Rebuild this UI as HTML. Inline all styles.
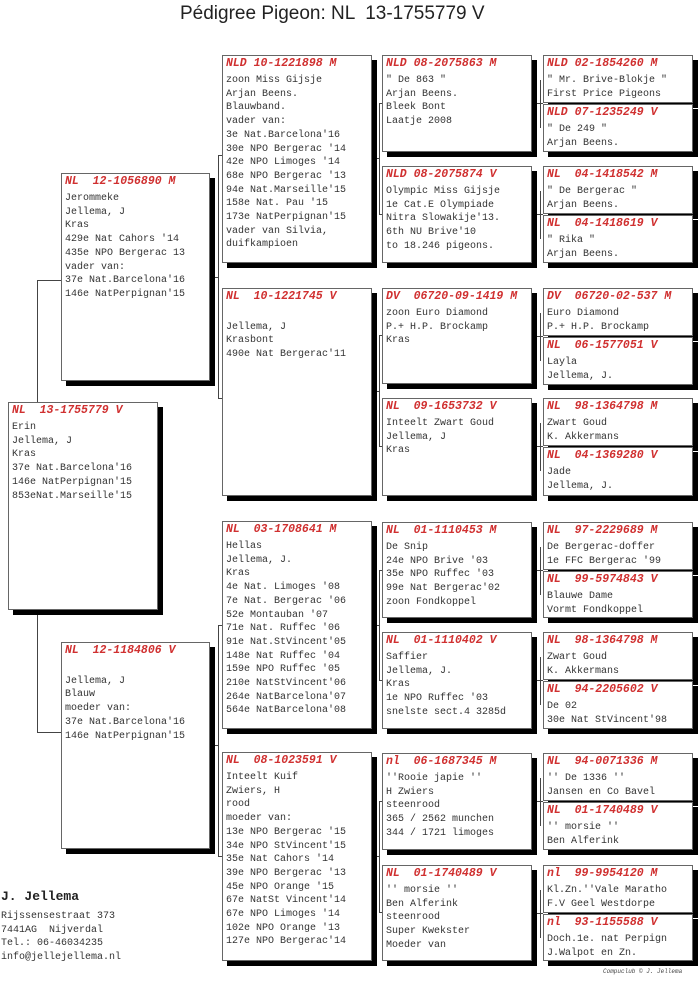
<!DOCTYPE html>
<html><head><meta charset="utf-8">
<style>
body{margin:0;width:700px;height:1006px;background:#fff;position:relative;overflow:hidden;font-family:"Liberation Mono",monospace;}
.t{position:absolute;left:180px;top:3px;font:19px "Liberation Sans",sans-serif;color:#222;white-space:pre;}
.b{position:absolute;background:#fff;border:1px solid #666;box-shadow:5px 5px 0 #000;box-sizing:border-box;padding:0 0 0 3px;font-size:10px;line-height:13.7px;color:#333;white-space:pre;overflow:hidden;}
.b .h{color:#d03030;font-weight:bold;font-style:italic;font-size:11.5px;height:18px;line-height:16px;}
svg{position:absolute;left:0;top:0;}
.f{position:absolute;font-size:10px;line-height:13.5px;color:#333;white-space:pre;left:1px;}
</style></head><body>
<div class="t">Pédigree Pigeon: NL  13-1755779 V</div>
<svg width="700" height="1006"><g stroke="#444" stroke-width="1" fill="none">
<path d="M37.5 280V732M37 280.5H61M37 732.5H61"/>
<path d="M218.5 155V398M209 277.5H218M218 155.5H222M218 398.5H222"/>
<path d="M218.5 625V856M209 745.5H218M218 625.5H222M218 856.5H222"/>
<path d="M379.5 103V214M371 158.5H379M379 103.5H382M379 214.5H382"/>
<path d="M379.5 335V446M371 391.5H379M379 335.5H382M379 446.5H382"/>
<path d="M379.5 570V680M371 625.5H379M379 570.5H382M379 680.5H382"/>
<path d="M379.5 801V912M371 856.5H379M379 801.5H382M379 912.5H382"/>
<path d="M540.5 80V128M532 103.5H543M540.5 191V239M532 214.5H543M540.5 313V361M532 336.5H543M540.5 423V471M532 446.5H543M540.5 547V595M532 570.5H543M540.5 657V705M532 680.5H543M540.5 778V826M532 801.5H543M540.5 890V938M532 913.5H543"/>
</g></svg>

<div class="b" style="left:8px;top:402px;width:150px;height:208px"><div class="h">NL  13-1755779 V</div>Erin
Jellema, J
Kras
37e Nat.Barcelona'16
146e NatPerpignan'15
853eNat.Marseille'15</div>

<div class="b" style="left:61px;top:173px;width:149px;height:208px"><div class="h">NL  12-1056890 M</div>Jerommeke
Jellema, J
Kras
429e Nat Cahors '14
435e NPO Bergerac 13
vader van:
37e Nat.Barcelona'16
146e NatPerpignan'15</div>
<div class="b" style="left:61px;top:642px;width:149px;height:207px"><div class="h">NL  12-1184806 V</div>
Jellema, J
Blauw
moeder van:
37e Nat.Barcelona'16
146e NatPerpignan'15</div>

<div class="b" style="left:222px;top:55px;width:150px;height:208px"><div class="h">NLD 10-1221898 M</div>zoon Miss Gijsje
Arjan Beens.
Blauwband.
vader van:
3e Nat.Barcelona'16
30e NPO Bergerac '14
42e NPO Limoges '14
68e NPO Bergerac '13
94e Nat.Marseille'15
158e Nat. Pau '15
173e NatPerpignan'15
vader van Silvia,
duifkampioen</div>
<div class="b" style="left:222px;top:288px;width:150px;height:208px"><div class="h">NL  10-1221745 V</div>
Jellema, J
Krasbont
490e Nat Bergerac'11</div>
<div class="b" style="left:222px;top:521px;width:150px;height:208px"><div class="h">NL  03-1708641 M</div>Hellas
Jellema, J.
Kras
4e Nat. Limoges '08
7e Nat. Bergerac '06
52e Montauban '07
71e Nat. Ruffec '06
91e Nat.StVincent'05
148e Nat Ruffec '04
159e NPO Ruffec '05
210e NatStVincent'06
264e NatBarcelona'07
564e NatBarcelona'08</div>
<div class="b" style="left:222px;top:752px;width:150px;height:209px"><div class="h">NL  08-1023591 V</div>Inteelt Kuif
Zwiers, H
rood
moeder van:
13e NPO Bergerac '15
34e NPO StVincent'15
35e Nat Cahors '14
39e NPO Bergerac '13
45e NPO Orange '15
67e NatSt Vincent'14
67e NPO Limoges '14
102e NPO Orange '13
127e NPO Bergerac'14</div>

<div class="b" style="left:382px;top:55px;width:150px;height:97px"><div class="h">NLD 08-2075863 M</div>" De 863 "
Arjan Beens.
Bleek Bont
Laatje 2008</div>
<div class="b" style="left:382px;top:166px;width:150px;height:97px"><div class="h">NLD 08-2075874 V</div>Olympic Miss Gijsje
1e Cat.E Olympiade
Nitra Slowakije'13.
6th NU Brive'10
to 18.246 pigeons.</div>
<div class="b" style="left:382px;top:288px;width:150px;height:96px"><div class="h">DV  06720-09-1419 M</div>zoon Euro Diamond
P.+ H.P. Brockamp
Kras</div>
<div class="b" style="left:382px;top:398px;width:150px;height:98px"><div class="h">NL  09-1653732 V</div>Inteelt Zwart Goud
Jellema, J
Kras</div>
<div class="b" style="left:382px;top:522px;width:150px;height:96px"><div class="h">NL  01-1110453 M</div>De Snip
24e NPO Brive '03
35e NPO Ruffec '03
99e Nat Bergerac'02
zoon Fondkoppel</div>
<div class="b" style="left:382px;top:632px;width:150px;height:97px"><div class="h">NL  01-1110402 V</div>Saffier
Jellema, J.
Kras
1e NPO Ruffec '03
snelste sect.4 3285d</div>
<div class="b" style="left:382px;top:753px;width:150px;height:97px"><div class="h">nl  06-1687345 M</div>''Rooie japie ''
H Zwiers
steenrood
365 / 2562 munchen
344 / 1721 limoges</div>
<div class="b" style="left:382px;top:865px;width:150px;height:96px"><div class="h">NL  01-1740489 V</div>'' morsie ''
Ben Alferink
steenrood
Super Kwekster
Moeder van</div>

<div class="b" style="left:543px;top:55px;width:150px;height:48px"><div class="h">NLD 02-1854260 M</div>" Mr. Brive-Blokje "
First Price Pigeons</div>
<div class="b" style="left:543px;top:104px;width:150px;height:48px"><div class="h">NLD 07-1235249 V</div>" De 249 "
Arjan Beens.</div>
<div class="b" style="left:543px;top:166px;width:150px;height:48px"><div class="h">NL  04-1418542 M</div>" De Bergerac "
Arjan Beens.</div>
<div class="b" style="left:543px;top:215px;width:150px;height:48px"><div class="h">NL  04-1418619 V</div>" Rika "
Arjan Beens.</div>
<div class="b" style="left:543px;top:288px;width:150px;height:48px"><div class="h">DV  06720-02-537 M</div>Euro Diamond
P.+ H.P. Brockamp</div>
<div class="b" style="left:543px;top:337px;width:150px;height:48px"><div class="h">NL  06-1577051 V</div>Layla
Jellema, J.</div>
<div class="b" style="left:543px;top:398px;width:150px;height:48px"><div class="h">NL  98-1364798 M</div>Zwart Goud
K. Akkermans</div>
<div class="b" style="left:543px;top:447px;width:150px;height:49px"><div class="h">NL  04-1369280 V</div>Jade
Jellema, J.</div>
<div class="b" style="left:543px;top:522px;width:150px;height:48px"><div class="h">NL  97-2229689 M</div>De Bergerac-doffer
1e FFC Bergerac '99</div>
<div class="b" style="left:543px;top:571px;width:150px;height:47px"><div class="h">NL  99-5974843 V</div>Blauwe Dame
Vormt Fondkoppel</div>
<div class="b" style="left:543px;top:632px;width:150px;height:48px"><div class="h">NL  98-1364798 M</div>Zwart Goud
K. Akkermans</div>
<div class="b" style="left:543px;top:681px;width:150px;height:48px"><div class="h">NL  94-2205602 V</div>De 02
30e Nat StVincent'98</div>
<div class="b" style="left:543px;top:753px;width:150px;height:48px"><div class="h">NL  94-0071336 M</div>'' De 1336 ''
Jansen en Co Bavel</div>
<div class="b" style="left:543px;top:802px;width:150px;height:48px"><div class="h">NL  01-1740489 V</div>'' morsie ''
Ben Alferink</div>
<div class="b" style="left:543px;top:865px;width:150px;height:48px"><div class="h">nl  99-9954120 M</div>Kl.Zn.''Vale Maratho
F.V Geel Westdorpe</div>
<div class="b" style="left:543px;top:914px;width:150px;height:47px"><div class="h">nl  93-1155588 V</div>Doch.1e. nat Perpign
J.Walpot en Zn.</div>

<div class="f" style="top:890px;font-size:13px;font-weight:bold;color:#222">J. Jellema</div>
<div class="f" style="top:910px">Rijssensestraat 373
7441AG  Nijverdal
Tel.: 06-46034235
info@jellejellema.nl</div>
<div style="position:absolute;left:603px;top:968px;font:italic 6px 'Liberation Mono',monospace;color:#444;white-space:pre">Compuclub © J. Jellema</div>
</body></html>
